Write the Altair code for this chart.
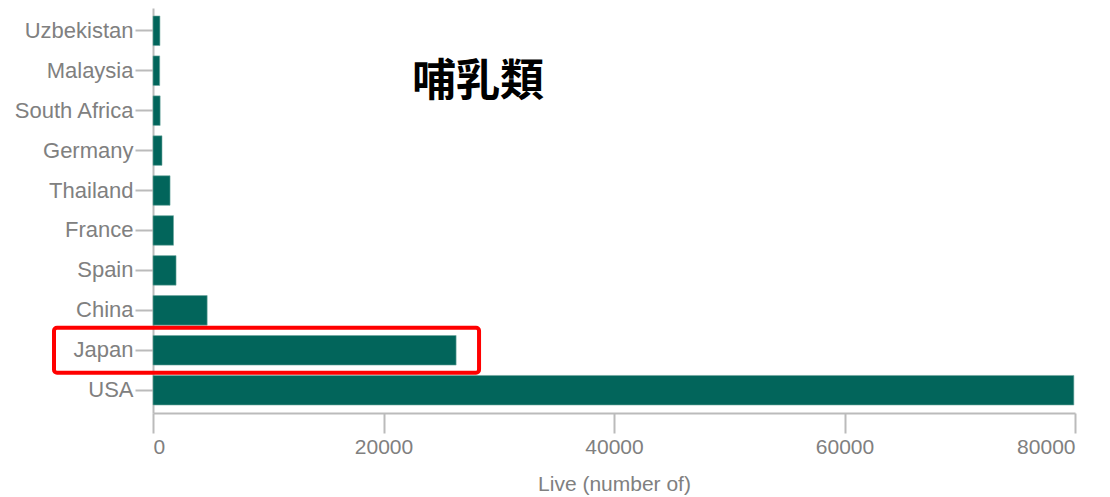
import altair as alt
import pandas as pd

countries = ["Uzbekistan", "Malaysia", "South Africa", "Germany", "Thailand",
             "France", "Spain", "China", "Japan", "USA"]
live = [600, 580, 620, 780, 1480, 1780, 2000, 4700, 26300, 79900]

title_text = "哺乳類"
x_title = "Live (number of)"
x_ticks = [0, 20000, 40000, 60000, 80000]

# highlight box around Japan (data units on x)
hl_country = ["Japan"]
hl_x0 = [-8590]
hl_x1 = [28290]

df = pd.DataFrame({"country": countries, "live": live})
hl = pd.DataFrame({"country": hl_country, "x0": hl_x0, "x1": hl_x1})
lbl = pd.DataFrame({"t": [title_text]})

FONT = "Liberation Sans"
GRAY = "#808080"

y_enc = alt.Y("country:N", sort=countries, title=None,
              scale=alt.Scale(paddingInner=0.26, paddingOuter=0.2),
              axis=alt.Axis(labelFont=FONT, labelFontSize=22, labelColor=GRAY,
                            tickSize=18, tickColor="#bbbbbb", tickWidth=2,
                            domainColor="#bbbbbb", domainWidth=2,
                            labelPadding=2))
x_scale = alt.Scale(domain=[0, 80000], nice=False)

bars = alt.Chart(df).mark_bar(color="#02655b", stroke="#6fa79f", strokeWidth=0.6).encode(
    x=alt.X("live:Q", scale=x_scale, title=x_title,
            axis=alt.Axis(values=x_ticks, grid=False, format="d",
                          labelFont=FONT, labelFontSize=21, labelColor=GRAY,
                          titleFont=FONT, titleFontSize=21, titleColor=GRAY,
                          titleFontWeight="normal", titlePadding=16,
                          tickSize=20, tickColor="#bbbbbb", tickWidth=2,
                          domainColor="#bbbbbb", domainWidth=2, labelPadding=3)),
    y=y_enc,
)

box = alt.Chart(hl).mark_rect(filled=False, stroke="#ff0000", strokeWidth=4,
                              cornerRadius=3,
                              height=alt.RelativeBandSize(band=1.52)).encode(
    x=alt.X("x0:Q", scale=x_scale),
    x2="x1:Q",
    y=alt.Y("country:N", sort=countries),
)

label = alt.Chart(lbl).mark_text(font="Noto Sans CJK JP", fontSize=44,
                                 fontWeight="bold", color="#000000",
                                 align="center", baseline="middle").encode(
    text="t:N", x=alt.value(325), y=alt.value(75))

chart = alt.layer(bars, box, label).properties(
    width=922, height=405,
    autosize=alt.AutoSizeParams(type="none"),
    padding={"left": 145, "top": 0, "right": 27, "bottom": 84},
).configure(background="white").configure_view(strokeWidth=0)

chart.save("out.html", embed_options={"renderer": "svg", "actions": False})
